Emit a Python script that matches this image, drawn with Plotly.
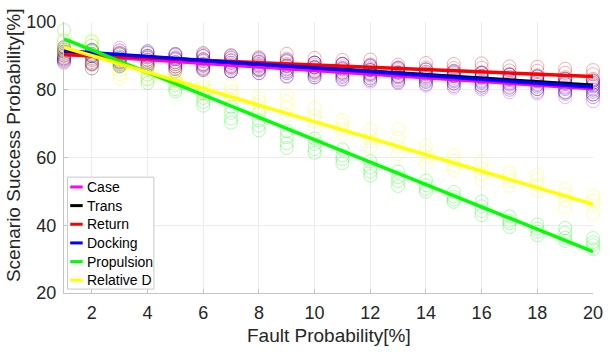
import plotly.graph_objects as go

# Fault probability levels (%) at which each scenario was simulated
fault_pct = [1, 2, 3, 4, 5, 6, 7, 8, 9, 10, 11, 12, 13, 14, 15, 16, 17, 18, 19, 20]

series_names = ["Case", "Trans", "Return", "Docking", "Propulsion", "Relative D"]

# Scenario success probability (%) - four runs per fault level
case_runs = [
    [92.3, 90.8, 89.6, 88.4], [91.6, 90.2, 89.1, 87.9], [92.4, 90.6, 88.8, 87.6], [90.8, 89.5, 88.2, 87.1],
    [90.2, 88.9, 87.6, 86.2], [89.9, 88.4, 87.0, 85.9], [89.6, 87.9, 86.6, 85.4], [88.4, 87.2, 86.0, 84.9],
    [88.6, 86.8, 85.3, 83.8], [87.4, 86.1, 84.8, 83.6], [86.9, 85.6, 84.2, 82.9], [86.5, 85.0, 83.6, 82.4],
    [85.8, 84.4, 83.1, 81.9], [85.2, 83.9, 82.6, 81.2], [84.9, 83.4, 82.0, 80.6], [84.2, 82.8, 81.4, 80.1],
    [83.8, 82.3, 80.9, 79.3], [83.1, 81.7, 80.2, 78.9], [82.6, 81.0, 79.4, 77.8], [82.0, 80.4, 78.6, 76.6],
]
trans_runs = [
    [92.6, 91.3, 90.0, 88.9], [91.8, 89.9, 87.6, 86.3], [91.6, 90.4, 89.2, 88.0], [91.4, 90.0, 88.9, 87.6],
    [90.6, 89.3, 88.1, 86.9], [90.8, 89.0, 87.5, 86.2], [90.2, 88.6, 87.0, 85.6], [89.3, 88.1, 86.8, 85.7],
    [88.4, 87.2, 86.0, 84.9], [88.0, 86.6, 85.4, 84.3], [87.7, 86.3, 85.0, 83.8], [87.0, 85.8, 84.6, 83.3],
    [86.6, 85.2, 84.0, 82.7], [86.0, 84.8, 83.5, 82.3], [85.4, 84.2, 82.9, 81.8], [85.0, 83.7, 82.4, 81.2],
    [84.6, 83.2, 81.9, 80.6], [83.9, 82.7, 81.4, 80.2], [83.3, 82.0, 80.6, 79.2], [82.8, 81.4, 80.0, 78.6],
]
return_runs = [
    [91.2, 90.2, 89.3, 88.6], [90.6, 89.4, 88.2, 87.4], [91.0, 89.8, 88.4, 87.2], [90.0, 88.8, 87.8, 86.8],
    [89.6, 88.2, 86.8, 85.4], [90.4, 89.0, 87.7, 86.5], [90.0, 88.8, 87.4, 86.2], [89.6, 88.3, 87.2, 86.0],
    [90.6, 89.2, 87.6, 86.3], [89.4, 88.0, 86.8, 85.6], [88.8, 87.6, 86.4, 85.1], [88.9, 87.5, 86.1, 84.8],
    [87.4, 86.2, 85.0, 83.9], [87.9, 86.6, 85.3, 84.0], [87.6, 86.4, 85.1, 84.0], [87.8, 86.5, 85.2, 84.0],
    [86.9, 85.7, 84.5, 83.4], [86.8, 85.6, 84.3, 83.0], [86.2, 85.0, 83.7, 82.5], [85.8, 84.6, 83.2, 81.9],
]
docking_runs = [
    [91.8, 90.6, 89.2, 88.0], [91.4, 90.0, 88.8, 87.6], [90.8, 89.4, 88.2, 86.9], [91.0, 89.6, 88.3, 87.2],
    [90.4, 89.0, 87.5, 86.1], [90.0, 88.6, 87.2, 85.8], [89.4, 88.0, 86.7, 85.4], [89.0, 87.6, 86.2, 84.9],
    [88.8, 87.0, 85.5, 84.0], [88.0, 86.6, 85.1, 83.7], [87.6, 86.0, 84.6, 83.2], [87.2, 85.8, 84.2, 82.8],
    [86.4, 85.0, 83.6, 82.2], [86.0, 84.5, 83.0, 81.6], [85.6, 84.0, 82.5, 81.1], [84.9, 83.5, 82.0, 80.6],
    [84.4, 82.9, 81.5, 80.0], [84.0, 82.4, 80.9, 79.4], [83.2, 81.7, 80.2, 78.8], [82.6, 81.0, 79.4, 77.8],
]
propulsion_runs = [
    [97.6, 94.5, 92.0, 90.5], [94.3, 93.0, 91.8, 90.5], [89.8, 88.6, 87.5, 86.9], [86.2, 84.5, 83.1, 82.0],
    [82.6, 81.3, 80.2, 79.5], [78.9, 77.6, 76.4, 75.3], [75.0, 73.2, 71.5, 70.3], [73.1, 71.0, 69.4, 68.0],
    [67.8, 66.0, 64.2, 62.8], [65.6, 64.0, 62.5, 61.4], [62.4, 60.6, 59.5, 58.3], [58.9, 57.0, 55.8, 54.6],
    [55.8, 54.2, 53.0, 51.6], [53.2, 51.8, 50.8, 49.9], [49.8, 48.5, 47.6, 46.9], [47.0, 45.6, 44.2, 43.0],
    [42.6, 41.3, 40.6, 39.5], [40.2, 39.0, 38.1, 37.0], [39.2, 37.8, 36.3, 35.4], [36.2, 35.0, 34.1, 32.9],
]
relative_d_runs = [
    [95.0, 93.0, 91.8, 90.6], [94.8, 93.2, 89.0, 87.6], [87.2, 85.8, 84.6, 83.4], [87.0, 86.0, 84.8, 83.6],
    [84.8, 83.6, 82.8, 82.0], [82.4, 80.8, 79.6, 78.5], [81.0, 79.6, 78.4, 77.2], [77.8, 76.4, 75.2, 73.8],
    [78.6, 76.4, 74.6, 72.5], [74.6, 72.4, 70.8, 68.6], [71.2, 69.6, 68.2, 66.9], [68.2, 66.3, 64.8, 63.0],
    [68.4, 65.8, 63.2, 61.0], [63.4, 61.6, 60.2, 58.0], [60.6, 59.0, 57.6, 56.2], [58.8, 56.8, 55.0, 53.4],
    [55.6, 54.4, 53.2, 51.6], [55.0, 53.4, 51.8, 50.0], [50.8, 49.0, 47.4, 45.2], [48.6, 47.2, 45.8, 43.4],
]

# Linear trend of each scenario, evaluated at the first and last fault level
trend_first = [90.5, 91.2, 90.4, 91.5, 95.0, 92.5]
trend_last = [80.3, 81.3, 83.9, 80.8, 32.2, 46.2]

all_runs = [case_runs, trans_runs, return_runs, docking_runs, propulsion_runs, relative_d_runs]
line_colors = ["#ff00ff", "#000000", "#ff0000", "#0000ff", "#00ff00", "#ffff00"]
marker_alpha = 0.32

FONT = "Liberation Sans, Arial, Helvetica, sans-serif"
TEXT = "#262626"


def rgba(hex_color, a):
    h = hex_color.lstrip("#")
    r, g, b = int(h[0:2], 16), int(h[2:4], 16), int(h[4:6], 16)
    return f"rgba({r},{g},{b},{a})"


fig = go.Figure()

# Individual runs as translucent open circles
for name, runs, col in zip(series_names, all_runs, line_colors):
    xs, ys = [], []
    for fp, vals in zip(fault_pct, runs):
        for v in vals:
            xs.append(fp)
            ys.append(v)
    fig.add_trace(go.Scatter(
        x=xs, y=ys, mode="markers", showlegend=False, cliponaxis=False,
        marker=dict(symbol="circle-open", size=13, color=rgba(col, marker_alpha),
                    line=dict(width=1, color=rgba(col, marker_alpha))),
        hoverinfo="skip",
    ))

# Trend lines
for name, y0, y1, col in zip(series_names, trend_first, trend_last, line_colors):
    fig.add_trace(go.Scatter(
        x=[fault_pct[0], fault_pct[-1]], y=[y0, y1], mode="lines", name=name,
        showlegend=False, line=dict(color=col, width=3.5),
    ))

# Legend box drawn in paper space
shapes = [dict(type="rect", xref="paper", yref="paper",
               x0=0.0067, x1=0.170, y0=0.0145, y1=0.4275,
               line=dict(color="#c8c8c8", width=1), fillcolor="white", layer="above")]
annotations = []
entry_px = [185, 204, 223, 242, 261, 280]
for name, col, py in zip(series_names, line_colors, entry_px):
    yp = (293 - py) / 276
    shapes.append(dict(type="line", xref="paper", yref="paper",
                       x0=0.0117, x1=0.0353, y0=yp, y1=yp,
                       line=dict(color=col, width=3), layer="above"))
    annotations.append(dict(text=name, xref="paper", yref="paper", x=0.0396, y=yp,
                            xanchor="left", yanchor="middle", showarrow=False,
                            font=dict(family=FONT, size=14, color="#000000")))

# Axis titles
annotations.append(dict(text="Fault Probability[%]", xref="paper", yref="paper",
                        x=0.5, y=-0.158, xanchor="center", yanchor="middle", showarrow=False,
                        font=dict(family=FONT, size=19, color=TEXT)))
annotations.append(dict(text="Scenario Success Probability[%]", xref="paper", yref="paper",
                        x=-0.095, y=0.545, xanchor="center", yanchor="middle", showarrow=False,
                        textangle=-90, font=dict(family=FONT, size=19, color=TEXT)))

axis_common = dict(
    showgrid=True, gridcolor="#ececec", gridwidth=1,
    showline=True, linecolor="#c4c4c4", linewidth=1,
    ticks="inside", ticklen=4, tickcolor="#c4c4c4", tickwidth=1,
    tickfont=dict(family=FONT, size=18, color=TEXT),
    zeroline=False, mirror=False,
)

fig.update_layout(
    width=615, height=354, autosize=False,
    margin=dict(l=64, r=12, t=17, b=61, pad=0),
    paper_bgcolor="white", plot_bgcolor="white",
    xaxis=dict(range=[1, 20], tickvals=[2, 4, 6, 8, 10, 12, 14, 16, 18, 20],
               ticklabelstandoff=3, **axis_common),
    yaxis=dict(range=[20, 100], tickvals=[20, 40, 60, 80, 100],
               ticklabelstandoff=3, **axis_common),
    shapes=shapes, annotations=annotations,
    showlegend=False,
)

fig.write_html("out.html")
